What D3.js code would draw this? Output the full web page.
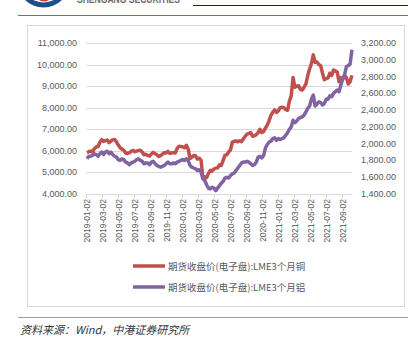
<!DOCTYPE html>
<html><head><meta charset="utf-8">
<script src="https://cdn.jsdelivr.net/npm/d3@7/dist/d3.min.js"></script>
<style>
html,body{margin:0;padding:0;background:#fff;}
svg{display:block;}
</style></head>
<body>
<svg id="c" width="408" height="342"></svg>
<script>
// ---- data (weekly samples, starting 2019-01-02) ----
const startDate = "2019-01-02";
const copper = [
5920,5960,5990,5950,6100,6180,6200,6400,6520,6440,6470,6500,6380,6460,6510,6530,6420,6270,6150,6080,
6030,5900,5880,5910,5980,6020,5960,5990,6020,6030,5950,5820,5840,5790,5760,5850,5930,5870,5820,5740,
5780,5850,5920,5900,5980,5880,5910,5920,5900,6120,6210,6200,6190,6140,6260,6080,5650,5700,5780,5770,
5620,5660,5560,4750,4800,4760,4950,5100,5060,5160,5200,5220,5350,5320,5560,5800,5820,5950,6050,6400,
6450,6460,6420,6470,6430,6560,6680,6780,6800,6850,6680,6700,6750,6850,7000,6850,6900,7050,7200,7400,
7650,7800,7900,7780,7860,8000,8020,8000,7920,7880,8300,8550,9400,8950,9000,9020,8850,8820,8950,9100,
9500,9800,10050,10450,10100,10120,10000,9950,9600,9300,9350,9380,9600,9500,9750,9700,9650,9200,9400,9300,
9500,9400,9100,9200,9500
];
const aluminium = [
1820,1850,1850,1860,1880,1870,1850,1880,1900,1870,1900,1910,1880,1900,1870,1850,1840,1810,1800,1820,
1810,1780,1770,1750,1770,1780,1790,1810,1820,1800,1790,1760,1770,1770,1750,1780,1790,1760,1740,1730,
1720,1730,1740,1760,1780,1760,1760,1770,1760,1780,1790,1800,1810,1800,1820,1800,1740,1720,1710,1700,
1680,1690,1660,1580,1560,1510,1470,1460,1480,1470,1440,1470,1500,1530,1550,1590,1600,1590,1620,1640,
1650,1680,1710,1740,1770,1780,1780,1790,1780,1760,1740,1750,1780,1840,1850,1830,1860,1950,1990,2020,
2030,2060,2070,2040,2060,2050,2060,2070,2100,2130,2170,2200,2280,2250,2270,2300,2310,2320,2340,2380,
2420,2450,2530,2580,2450,2470,2500,2490,2460,2480,2530,2530,2570,2560,2600,2620,2640,2620,2700,2780,
2820,2920,2930,2950,3120
];
const tickLabels = ["2019-01-02","2019-03-02","2019-05-02","2019-07-02","2019-09-02","2019-11-02",
"2020-01-02","2020-03-02","2020-05-02","2020-07-02","2020-09-02","2020-11-02",
"2021-01-02","2021-03-02","2021-05-02","2021-07-02","2021-09-02"];
const leftTicks = [4000,5000,6000,7000,8000,9000,10000,11000];
const rightTicks = [1400,1600,1800,2000,2200,2400,2600,2800,3000,3200];
const seriesNames = ["期货收盘价(电子盘):LME3个月铜","期货收盘价(电子盘):LME3个月铝"];
const colors = ["#c0504d","#8064a2"];

// ---- drawing ----
const svg = d3.select("#c");
const parse = d3.timeParse("%Y-%m-%d");
const t0 = parse(startDate);
const dates = copper.map((_, i) => d3.timeDay.offset(t0, 7 * i));

const x = d3.scaleTime().domain([parse("2019-01-02"), parse("2021-09-02")]).range([87, 343]);
const yL = d3.scaleLinear().domain([4000, 11000]).range([194, 43]);
const yR = d3.scaleLinear().domain([1400, 3200]).range([194, 43]);
const plotL = 86, plotR = 352;

// header
svg.append("circle").attr("cx", 43.5).attr("cy", -19).attr("r", 26.5).attr("fill", "#1f4e8f");
svg.append("circle").attr("cx", 43.5).attr("cy", -19).attr("r", 21.5).attr("fill", "#fff");
svg.append("ellipse").attr("cx", 44).attr("cy", -2).attr("rx", 6).attr("ry", 3.5).attr("fill", "#c9403a");
svg.append("text").attr("x", 77).attr("y", 3).attr("textLength", 103).attr("lengthAdjust", "spacingAndGlyphs")
  .attr("font-family", "Liberation Sans, Arial, sans-serif").attr("font-weight", "bold")
  .attr("font-size", 11).attr("fill", "#6d6d6d").text("SHENGANG SECURITIES");
svg.append("line").attr("x1", 193).attr("x2", 408).attr("y1", 5.5).attr("y2", 5.5).attr("stroke", "#222").attr("stroke-width", 1);
svg.append("line").attr("x1", 18).attr("x2", 408).attr("y1", 15.5).attr("y2", 15.5).attr("stroke", "#b65a44").attr("stroke-width", 1);

// chart frame
svg.append("rect").attr("x", 27.5).attr("y", 25.5).attr("width", 377).attr("height", 281)
  .attr("fill", "#fff").attr("stroke", "#d9d9d9").attr("stroke-width", 1);

// gridlines
svg.append("g").selectAll("line").data(leftTicks.slice(1)).join("line")
  .attr("x1", plotL).attr("x2", plotR)
  .attr("y1", d => Math.round(yL(d)) + 0.5).attr("y2", d => Math.round(yL(d)) + 0.5)
  .attr("stroke", "#d9d9d9").attr("stroke-width", 1);

// left axis labels
svg.append("g").selectAll("text").data(leftTicks).join("text")
  .attr("x", 77).attr("y", d => yL(d) + 3).attr("text-anchor", "end")
  .attr("font-family", "Liberation Sans, Arial, sans-serif").attr("font-size", 9).attr("fill", "#595959")
  .text(d => d3.format(",.2f")(d));
// right axis labels
svg.append("g").selectAll("text").data(rightTicks).join("text")
  .attr("x", 361).attr("y", d => yR(d) + 3).attr("text-anchor", "start")
  .attr("font-family", "Liberation Sans, Arial, sans-serif").attr("font-size", 9).attr("fill", "#595959")
  .text(d => d3.format(",.2f")(d));

// x axis
svg.append("line").attr("x1", plotL).attr("x2", plotR).attr("y1", 194.5).attr("y2", 194.5)
  .attr("stroke", "#d9d9d9").attr("stroke-width", 1);
const xt = svg.append("g");
xt.selectAll("line").data(tickLabels).join("line")
  .attr("x1", d => Math.round(x(parse(d))) - 0.5).attr("x2", d => Math.round(x(parse(d))) - 0.5)
  .attr("y1", 194.5).attr("y2", 198).attr("stroke", "#d9d9d9");
xt.selectAll("text").data(tickLabels).join("text")
  .attr("transform", d => `translate(${x(parse(d)) + 3},199) rotate(-90)`)
  .attr("text-anchor", "end")
  .attr("font-family", "Liberation Sans, Arial, sans-serif").attr("font-size", 8.5).attr("fill", "#595959")
  .text(d => d);

// lines
const lineL = d3.line().x((d, i) => x(dates[i])).y(d => yL(d));
const lineR = d3.line().x((d, i) => x(dates[i])).y(d => yR(d));
svg.append("path").datum(copper).attr("d", lineL).attr("fill", "none")
  .attr("stroke", colors[0]).attr("stroke-width", 3.5).attr("stroke-linejoin", "round");
svg.append("path").datum(aluminium).attr("d", lineR).attr("fill", "none")
  .attr("stroke", colors[1]).attr("stroke-width", 3.5).attr("stroke-linejoin", "round");

// legend
const lg = svg.append("g").selectAll("g").data(seriesNames).join("g")
  .attr("transform", (d, i) => `translate(0,${266 + i * 21})`);
lg.append("line").attr("x1", 133).attr("x2", 165).attr("y1", 0).attr("y2", 0)
  .attr("stroke", (d, i) => colors[i]).attr("stroke-width", 3.5);
lg.append("text").attr("x", 168).attr("y", 3.5)
  .attr("font-family", "Noto Sans CJK SC, sans-serif").attr("font-size", 9.5).attr("fill", "#595959")
  .text(d => d);

// footer
svg.append("line").attr("x1", 18).attr("x2", 408).attr("y1", 317.5).attr("y2", 317.5)
  .attr("stroke", "#e0826a").attr("stroke-width", 1);
svg.append("text").attr("x", 20).attr("y", 334)
  .attr("font-family", "Noto Sans CJK SC, sans-serif").attr("font-style", "italic")
  .attr("font-size", 11).attr("fill", "#333").text("资料来源：Wind，中港证券研究所");
</script>
</body></html>
